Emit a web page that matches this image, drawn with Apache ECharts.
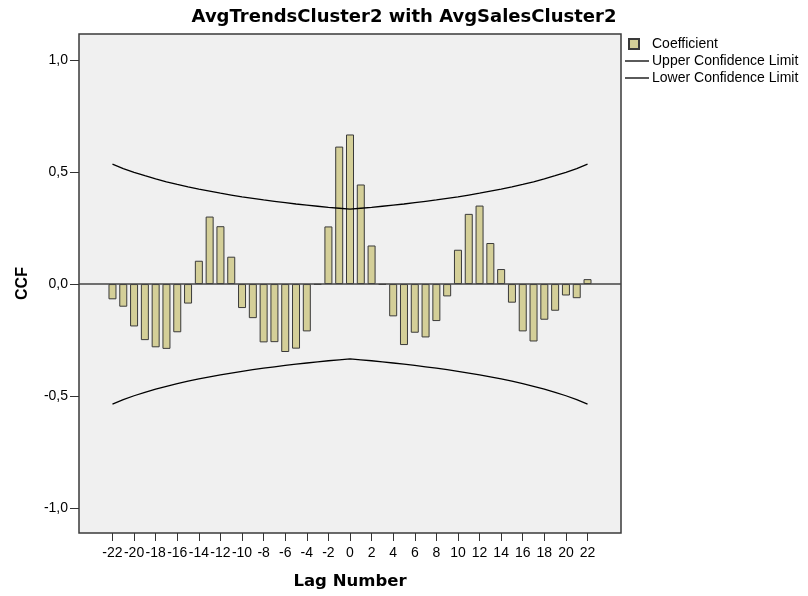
<!DOCTYPE html>
<html>
  <head>
    <meta charset="utf-8" />
    <title>CCF</title>
    <script src="https://cdn.jsdelivr.net/npm/echarts@6/dist/echarts.min.js"></script>
  </head>
  <body style="margin:0">
    <div id="main" style="width: 808px;height:596px;"></div>
    <script type="text/javascript">
// lags and values
var lags = [-22, -21, -20, -19, -18, -17, -16, -15, -14, -13, -12, -11, -10, -9, -8, -7, -6, -5, -4, -3, -2, -1,
            0, 1, 2, 3, 4, 5, 6, 7, 8, 9, 10, 11, 12, 13, 14, 15, 16, 17, 18, 19, 20, 21, 22];
var coefficient = [-0.068, -0.101, -0.189, -0.250, -0.282, -0.289, -0.215, -0.087, 0.104, 0.301, 0.258, 0.122,
                   -0.107, -0.152, -0.260, -0.259, -0.303, -0.288, -0.211, -0.003, 0.257, 0.613,
                   0.667, 0.444, 0.172, -0.003, -0.144, -0.272, -0.217, -0.238, -0.165, -0.055,
                   0.153, 0.313, 0.350, 0.183, 0.067, -0.083, -0.211, -0.256, -0.159, -0.119, -0.051, -0.063, 0.022];
var upperLimit = [0.535, 0.515, 0.498, 0.483, 0.469, 0.456, 0.444, 0.433, 0.423, 0.414, 0.405, 0.397, 0.389, 0.382,
                  0.375, 0.369, 0.363, 0.357, 0.352, 0.347, 0.342, 0.338, 0.334, 0.338, 0.342, 0.347, 0.352,
                  0.357, 0.363, 0.369, 0.375, 0.382, 0.389, 0.397, 0.405, 0.414, 0.423, 0.433, 0.444, 0.456,
                  0.469, 0.483, 0.498, 0.515, 0.535];
var lowerLimit = [-0.535, -0.515, -0.498, -0.483, -0.469, -0.456, -0.444, -0.433, -0.423, -0.414, -0.405, -0.397,
                  -0.389, -0.382, -0.375, -0.369, -0.363, -0.357, -0.352, -0.347, -0.342, -0.338, -0.334, -0.338,
                  -0.342, -0.347, -0.352, -0.357, -0.363, -0.369, -0.375, -0.382, -0.389, -0.397, -0.405, -0.414,
                  -0.423, -0.433, -0.444, -0.456, -0.469, -0.483, -0.498, -0.515, -0.535];
var xTicks = [-22, -20, -18, -16, -14, -12, -10, -8, -6, -4, -2, 0, 2, 4, 6, 8, 10, 12, 14, 16, 18, 20, 22];
var yTicks = [-1, -0.5, 0, 0.5, 1];

function pairs(ys) {
  return lags.map(function (x, i) { return [x, ys[i]]; });
}

var myChart = echarts.init(document.getElementById('main'));
var font = 'Arial, "Liberation Sans", sans-serif';
var boldFont = '"DejaVu Sans", sans-serif';

myChart.setOption({
  animation: false,
  backgroundColor: '#ffffff',
  title: {
    text: 'AvgTrendsCluster2 with AvgSalesCluster2',
    left: 'center',
    top: 3,
    textStyle: { fontFamily: boldFont, fontSize: 18, fontWeight: 'bold', color: '#000' }
  },
  legend: {
    orient: 'vertical',
    left: 619,
    top: 32,
    itemWidth: 24,
    itemHeight: 10,
    itemGap: 3,
    textStyle: { fontFamily: font, fontSize: 14, color: '#000', padding: [0, 0, 0, -2] },
    data: [
      // square sits at the left of the 24px icon box, as in the reference
      { name: 'Coefficient', icon: 'path://M4,0L14,0L14,10L4,10Z M0,0 M24,10' },
      { name: 'Upper Confidence Limit', icon: 'path://M0,0L24,0L24,1.3L0,1.3Z', itemStyle: { color: '#000', borderWidth: 0 } },
      { name: 'Lower Confidence Limit', icon: 'path://M0,0L24,0L24,1.3L0,1.3Z', itemStyle: { color: '#000', borderWidth: 0 } }
    ]
  },
  grid: {
    left: 79,
    right: 187,
    top: 34,
    bottom: 63,
    show: true,
    backgroundColor: '#f0f0f0',
    borderColor: '#3a3a3a',
    borderWidth: 1.5
  },
  xAxis: {
    type: 'value',
    min: -25.1,
    max: 25.1,
    name: 'Lag Number',
    nameLocation: 'middle',
    nameGap: 40,
    nameTextStyle: { fontFamily: boldFont, fontSize: 16.5, fontWeight: 'bold', color: '#000' },
    axisLine: { show: false, onZero: false },
    splitLine: { show: false },
    axisTick: { show: true, length: 8, customValues: xTicks, lineStyle: { color: '#333' } },
    axisLabel: { customValues: xTicks, margin: 13, fontFamily: font, fontSize: 14, color: '#000' }
  },
  yAxis: {
    type: 'value',
    min: -1.11,
    max: 1.115,
    name: 'CCF',
    nameLocation: 'middle',
    nameRotate: 90,
    nameGap: 48,
    nameTextStyle: { fontFamily: font, fontSize: 16, fontWeight: 'bold', color: '#000' },
    axisLine: { show: false, onZero: false },
    splitLine: { show: false },
    axisTick: { show: true, length: 9, customValues: yTicks, lineStyle: { color: '#333' } },
    axisLabel: {
      customValues: yTicks,
      margin: 11,
      fontFamily: font,
      fontSize: 14,
      color: '#000',
      formatter: function (v) { return v.toFixed(1).replace('.', ','); }
    }
  },
  series: [
    {
      name: 'Coefficient',
      type: 'bar',
      barWidth: 8,
      data: pairs(coefficient),
      itemStyle: { color: '#d4cf98', borderColor: '#3a3a3a', borderWidth: 1 },
      markLine: {
        silent: true,
        symbol: 'none',
        label: { show: false },
        lineStyle: { color: '#444', type: 'solid', width: 1.6 },
        data: [{ yAxis: 0 }]
      }
    },
    {
      name: 'Upper Confidence Limit',
      type: 'line',
      symbol: 'none',
      data: pairs(upperLimit),
      lineStyle: { color: '#000', width: 1.3 },
      itemStyle: { color: '#000' }
    },
    {
      name: 'Lower Confidence Limit',
      type: 'line',
      symbol: 'none',
      data: pairs(lowerLimit),
      lineStyle: { color: '#000', width: 1.3 },
      itemStyle: { color: '#000' }
    }
  ]
});
    </script>
  </body>
</html>
